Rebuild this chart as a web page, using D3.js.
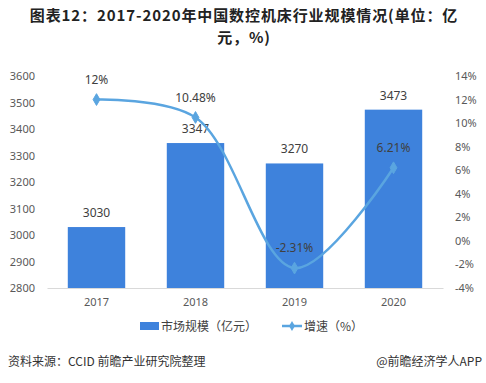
<!DOCTYPE html>
<html><head><meta charset="utf-8">
<script src="https://cdn.jsdelivr.net/npm/d3@7"></script>
<style>body{margin:0;background:#fff;}svg{display:block;font-family:"Microsoft YaHei","Noto Sans CJK SC",sans-serif;}</style>
</head><body>
<svg id="c" width="486" height="383"></svg>
<script>
const years = ["2017","2018","2019","2020"];
const marketSize = [3030, 3347, 3270, 3473];
const growth = [12, 10.48, -2.31, 6.21];
const growthLabels = ["12%","10.48%","-2.31%","6.21%"];
const leftTicks = [2800,2900,3000,3100,3200,3300,3400,3500,3600];
const rightTicks = [-4,-2,0,2,4,6,8,10,12,14];
const titleLines = ["图表12：2017-2020年中国数控机床行业规模情况(单位：亿","元，%)"];

const svg = d3.select("#c");
const x = d3.scaleBand().domain(years).range([47,443]).paddingInner(0.42).paddingOuter(0.21);
const yL = d3.scaleLinear().domain([2800,3600]).range([288,76]);
const yR = d3.scaleLinear().domain([-4,14]).range([288,76]);

// title
svg.selectAll("text.title").data(titleLines).enter().append("text").attr("class","title")
  .attr("x",244).attr("y",(d,i)=>21+i*22).attr("text-anchor","middle")
  .attr("font-weight","bold").attr("font-size",15).attr("letter-spacing",0.9).attr("fill","#222").text(d=>d);

// axes
const gL = svg.append("g").attr("transform","translate(47,0)")
  .call(d3.axisLeft(yL).tickValues(leftTicks).tickSize(0).tickPadding(12).tickFormat(d3.format("d")));
const gR = svg.append("g").attr("transform","translate(443,0)")
  .call(d3.axisRight(yR).tickValues(rightTicks).tickSize(0).tickPadding(12).tickFormat(d=>d+"%"));
[gL,gR].forEach(g=>{g.select(".domain").remove();g.selectAll("text").attr("font-size",11).attr("fill","#595959").attr("font-family","'Noto Sans',sans-serif");});
const gX = svg.append("g").attr("transform","translate(0,288)")
  .call(d3.axisBottom(x).tickSize(0).tickPadding(10));
gX.select(".domain").attr("stroke","#d9d9d9");
gX.selectAll("text").attr("font-size",11).attr("fill","#595959").attr("font-family","'Noto Sans',sans-serif");

// bars
svg.selectAll("rect.bar").data(marketSize).enter().append("rect").attr("class","bar")
  .attr("x",(d,i)=>x(years[i])).attr("width",x.bandwidth())
  .attr("y",d=>yL(d)).attr("height",d=>yL(2800)-yL(d)).attr("fill","#3e82dc");
svg.selectAll("text.bl").data(marketSize).enter().append("text").attr("class","bl")
  .attr("x",(d,i)=>x(years[i])+x.bandwidth()/2).attr("y",d=>yL(d)-10)
  .attr("text-anchor","middle").attr("font-size",12).attr("fill","#404040").attr("font-family","'Noto Sans',sans-serif").text(d=>d);

// line
const pts = growth.map((g,i)=>[x(years[i])+x.bandwidth()/2, yR(g)]);
svg.append("path").attr("d",d3.line().curve(d3.curveCatmullRom.alpha(0.5))(pts))
  .attr("fill","none").attr("stroke","#5aa5e0").attr("stroke-width",2.5);
svg.selectAll("path.mk").data(pts).enter().append("path").attr("class","mk")
  .attr("transform",d=>`translate(${d[0]},${d[1]})`)
  .attr("d",d3.symbol(d3.symbolDiamond,40)).attr("fill","#5aa5e0").attr("stroke","#5aa5e0");
const lblOff = [-16,-15,-16,-16];
svg.selectAll("text.gl").data(pts).enter().append("text").attr("class","gl")
  .attr("x",d=>d[0]).attr("y",(d,i)=>d[1]+lblOff[i])
  .attr("text-anchor","middle").attr("font-size",12).attr("fill","#404040").attr("font-family","'Noto Sans',sans-serif")
  .text((d,i)=>growthLabels[i]);

// legend
svg.append("rect").attr("x",140).attr("y",322).attr("width",19).attr("height",8).attr("fill","#3e82dc");
svg.append("text").attr("x",161).attr("y",331).attr("font-size",12).attr("fill","#404040").text("市场规模（亿元）");
svg.append("line").attr("x1",282).attr("x2",302).attr("y1",326).attr("y2",326).attr("stroke","#5aa5e0").attr("stroke-width",2.5);
svg.append("path").attr("transform","translate(292,326)").attr("d",d3.symbol(d3.symbolDiamond,30)).attr("fill","#5aa5e0");
svg.append("text").attr("x",304).attr("y",331).attr("font-size",12).attr("fill","#404040").text("增速（%）");

// footer
svg.append("text").attr("x",8).attr("y",366).attr("font-size",12).attr("fill","#333").text("资料来源：CCID 前瞻产业研究院整理");
svg.append("text").attr("x",482).attr("y",366).attr("text-anchor","end").attr("font-size",12).attr("fill","#333").text("@前瞻经济学人APP");
</script>
</body></html>
